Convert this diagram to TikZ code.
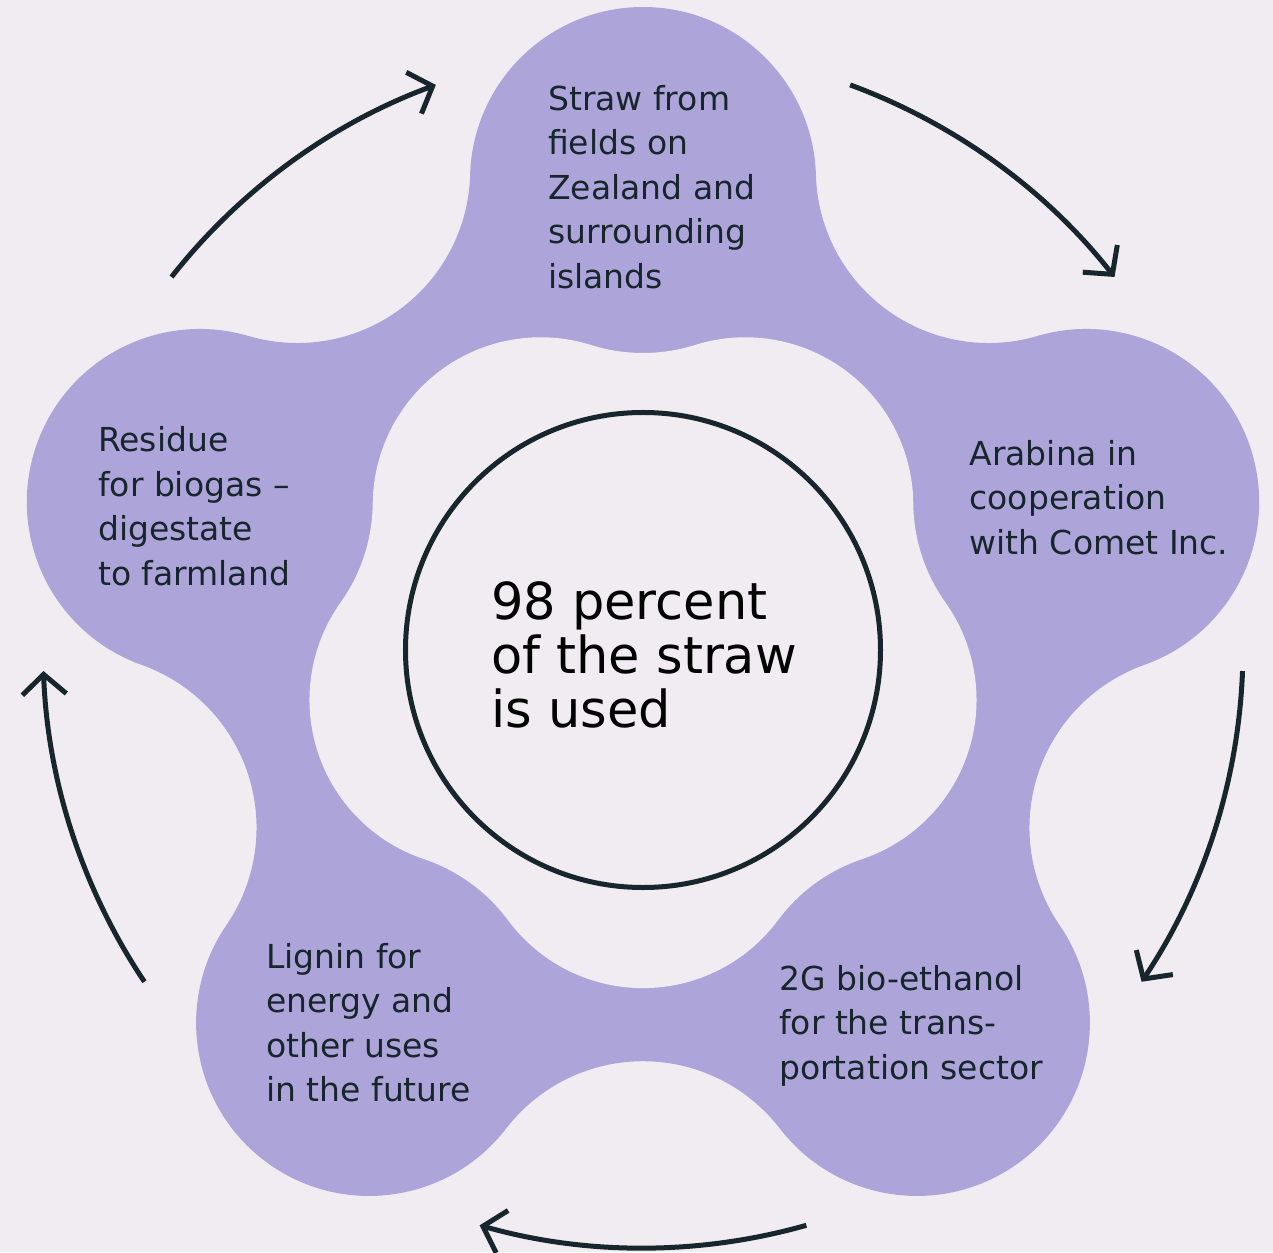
\documentclass[tikz,border=0pt]{standalone}
\usepackage{fontspec}
\setmainfont{DejaVu Sans}
\usetikzlibrary{arrows.meta}

\definecolor{paper}{HTML}{F1EBF2}
\definecolor{lilac}{HTML}{ADA5D9}
\definecolor{ink}{HTML}{17262D}

\begin{document}
\begin{tikzpicture}[x=1pt,y=1pt,
  lobetext/.style={anchor=base west,align=left,inner sep=0pt,text=ink,
    font=\fontsize{33}{44.5}\selectfont},
  roundarrow/.style={draw=ink,line width=5pt,-{Straight Barb[length=20pt,width=44pt]}}]
% page
\fill[paper] (-643,-606) rectangle (630,646);
\useasboundingbox (-643,-606) rectangle (630,646);

% five lobes (r=173, 466 out) joined by concave fillets
\fill[lilac] ([shift={(90:466)}]178.39:173)
  \foreach \k in {0,...,4} {
    arc[start angle=178.39-72*\k, end angle=1.61-72*\k, radius=173]
    arc[start angle=181.61-72*\k, end angle=286.39-72*\k, radius=172.76]
  } -- cycle;
% hole in the middle
\fill[paper] ([shift={(90:466)}]252.54:173)
  \foreach \k in {0,...,4} {
    arc[start angle=252.54-72*\k, end angle=287.46-72*\k, radius=173]
    arc[start angle=107.46-72*\k, end angle=0.54-72*\k, radius=168]
  } -- cycle;

% arrows round the lobes
\foreach \a in {54,-18,-90,-162,126}
  \draw[roundarrow] ([shift={(0,-2)}]\a+15.8:600) arc[start angle=\a+15.8, end angle=\a-15.8, radius=600];

\node[circle,draw=ink,line width=5pt,minimum size=475pt,inner sep=0pt] (core) at (0,-4) {};
% base west = baseline of the last line
\node[anchor=base west,align=left,inner sep=0pt,font=\fontsize{51}{53.5}\selectfont]
  (share) at (-152,-81) {98 percent\\of the straw\\is used};

\node[lobetext] (straw) at (-95,357.5) {Straw from\\fields on\\Zealand and\\surrounding\\islands};
\node[lobetext] (arabina) at (326.3,91.5) {Arabina in\\cooperation\\with Comet Inc.};
\node[lobetext] (ethanol) at (136,-433) {2G bio-ethanol\\for the trans-\\portation sector};
\node[lobetext] (lignin) at (-377,-455.5) {Lignin for\\energy and\\other uses\\in the future};
\node[lobetext] (residue) at (-545,60.5) {Residue\\for biogas –\\digestate\\to farmland};
\end{tikzpicture}
\end{document}
